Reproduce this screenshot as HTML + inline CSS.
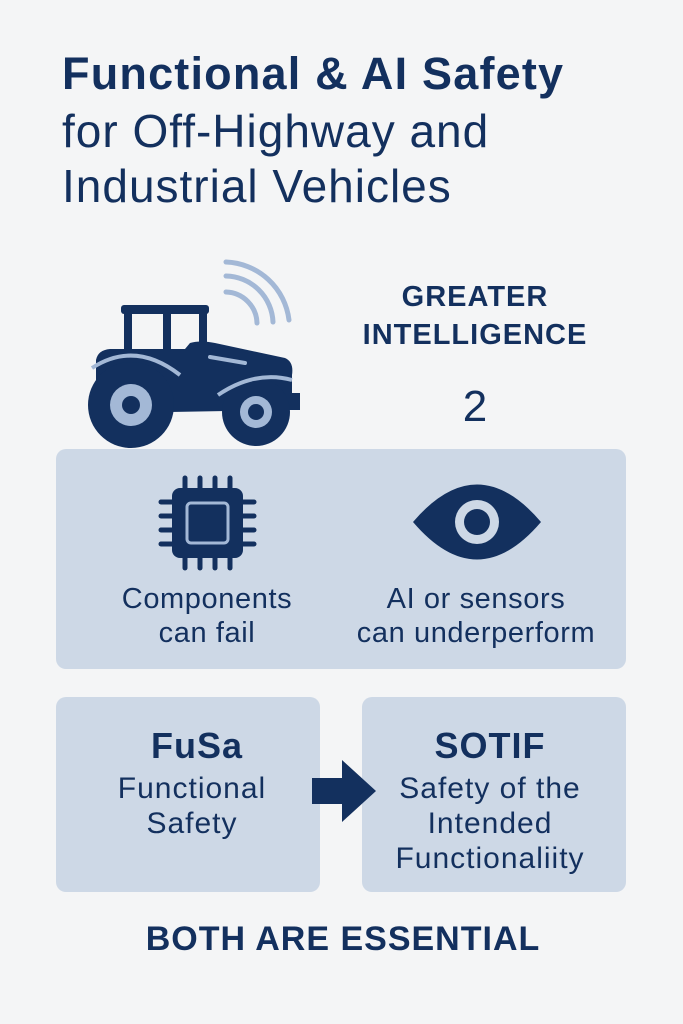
<!DOCTYPE html>
<html><head><meta charset="utf-8"><style>
body{margin:0;width:683px;height:1024px;background:#f4f5f6;font-family:"Liberation Sans",sans-serif;color:#13305e;position:relative;overflow:hidden}
.t{position:absolute;white-space:nowrap}
.c{position:absolute;text-align:center;transform:translateX(-50%);white-space:nowrap}
.p{position:absolute;background:#cdd8e6;border-radius:10px}
</style></head><body>
<div class="t" style="left:62px;top:47px;font-size:45px;font-weight:bold;line-height:54px;letter-spacing:1.2px">Functional &amp; AI Safety</div>
<div class="t" style="left:62px;top:104px;font-size:46px;line-height:54px;letter-spacing:1px">for Off-Highway and</div>
<div class="t" style="left:62px;top:159px;font-size:46px;line-height:54px;letter-spacing:1px">Industrial Vehicles</div>

<svg style="position:absolute;left:0;top:0" width="683" height="460">
<g fill="none" stroke="#a3b8d6" stroke-width="5" stroke-linecap="round">
<path d="M226 262 A66 66 0 0 1 289 320"/><path d="M226 276 A48 48 0 0 1 273 322"/><path d="M226 292 A32 32 0 0 1 257 323"/>
</g>
<g fill="#13305e">
<rect x="121" y="305" width="88" height="9" rx="3"/>
<rect x="124" y="310" width="8" height="50"/>
<rect x="163" y="310" width="8" height="50"/>
<rect x="199" y="310" width="8" height="40"/>
<path d="M96 360 Q98 350 110 349 L185 349 L190 343 Q200 340 215 343 L285 358 Q294 362 292 375 L292 393 L300 393 L300 410 L280 410 L170 412 L96 395 Z"/>
<circle cx="131" cy="405" r="43"/>
<circle cx="256" cy="412" r="34"/>
</g>
<path d="M92 368 Q135 340 180 375" fill="none" stroke="#a3b8d6" stroke-width="4"/>
<path d="M218 395 Q255 370 292 380" fill="none" stroke="#a3b8d6" stroke-width="4"/>
<line x1="210" y1="357" x2="245" y2="363" stroke="#a3b8d6" stroke-width="4" stroke-linecap="round"/>
<circle cx="131" cy="405" r="21" fill="#a3b8d6"/><circle cx="131" cy="405" r="9" fill="#13305e"/>
<circle cx="256" cy="412" r="16" fill="#a3b8d6"/><circle cx="256" cy="412" r="8" fill="#13305e"/>
</svg>

<div class="c" style="left:475px;top:278px;font-size:29px;font-weight:bold;line-height:38px;letter-spacing:1px">GREATER<br>INTELLIGENCE</div>
<div class="c" style="left:475px;top:382px;font-size:44px;line-height:50px">2</div>

<div class="p" style="left:56px;top:449px;width:570px;height:220px"></div>
<svg style="position:absolute;left:0;top:0" width="683" height="680">
<g stroke="#13305e" stroke-width="5" stroke-linecap="round">
<line x1="185" y1="478" x2="185" y2="568"/><line x1="200" y1="478" x2="200" y2="568"/><line x1="215" y1="478" x2="215" y2="568"/><line x1="230" y1="478" x2="230" y2="568"/>
<line x1="161" y1="502" x2="254" y2="502"/><line x1="161" y1="516" x2="254" y2="516"/><line x1="161" y1="530" x2="254" y2="530"/><line x1="161" y1="544" x2="254" y2="544"/>
</g>
<rect x="172" y="488" width="71" height="70" rx="8" fill="#13305e"/>
<rect x="187" y="503" width="41" height="40" rx="4" fill="none" stroke="#a3b8d6" stroke-width="3"/>
<path d="M413 522 Q477 447 541 522 Q477 597 413 522 Z" fill="#13305e"/>
<circle cx="477" cy="522" r="22" fill="#cdd8e6"/><circle cx="477" cy="522" r="13" fill="#13305e"/>
</svg>
<div class="c" style="left:207px;top:582px;font-size:29px;line-height:34px;letter-spacing:0.6px">Components<br>can fail</div>
<div class="c" style="left:476px;top:582px;font-size:29px;line-height:34px;letter-spacing:0.6px">AI or sensors<br>can underperform</div>

<div class="p" style="left:56px;top:697px;width:264px;height:195px"></div>
<div class="p" style="left:362px;top:697px;width:264px;height:195px"></div>
<div class="c" style="left:197px;top:725px;font-size:36px;font-weight:bold;line-height:42px;letter-spacing:1px">FuSa</div>
<div class="c" style="left:192px;top:771px;font-size:30px;line-height:35px;letter-spacing:1px">Functional<br>Safety</div>
<div class="c" style="left:490px;top:725px;font-size:36px;font-weight:bold;line-height:42px;letter-spacing:1px">SOTIF</div>
<div class="c" style="left:490px;top:771px;font-size:30px;line-height:35px;letter-spacing:1px">Safety of the<br>Intended<br>Functionaliity</div>
<svg style="position:absolute;left:310px;top:758px" width="70" height="68"><path d="M2 20 L32 20 L32 2 L66 33 L32 64 L32 46 L2 46 Z" fill="#13305e"/></svg>

<div class="c" style="left:343px;top:918px;font-size:34px;font-weight:bold;line-height:42px;letter-spacing:1px">BOTH ARE ESSENTIAL</div>
</body></html>
